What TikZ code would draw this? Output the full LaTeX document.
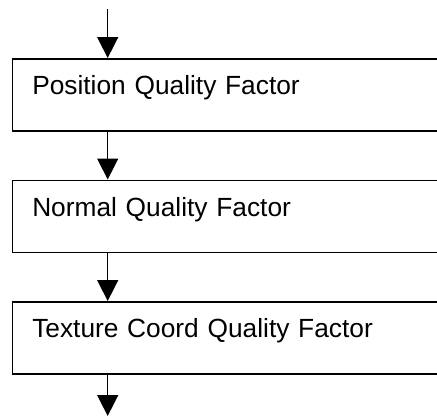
\documentclass[tikz,border=0pt]{standalone}
\usepackage{fontspec}
\setmainfont{Liberation Sans}
\usetikzlibrary{positioning,arrows.meta}

\begin{document}
\begin{tikzpicture}[x=1pt,y=1pt,
    qbox/.style={draw, line width=1.5pt, rectangle, anchor=north west,
      minimum width=450pt, text width=410pt, align=left,
      inner xsep=15pt, inner ysep=17pt, text height=19pt, text depth=19pt,
      font=\fontsize{26.3}{30}\selectfont},
    flow/.style={line width=1.5pt, -{Triangle[width=21pt,length=21pt]}}]
  \useasboundingbox (0,0) rectangle (437,-416);
  \clip (0,0) rectangle (437,-416);
  % the three factors
  \node[qbox] (pos) at (11.5,-58) {Position Quality Factor};
  \node[qbox, below=48pt of pos] (nrm) {Normal Quality Factor};
  \node[qbox, below=48pt of nrm] (tex) {Texture Coord Quality Factor};
  \coordinate (in) at (107.7,-9);
  \coordinate (out) at (107.7,-416);
  % connectors
  \draw[flow] (in) -- (in |- pos.north);
  \draw[flow] (in |- pos.south) -- (in |- nrm.north);
  \draw[flow] (in |- nrm.south) -- (in |- tex.north);
  \draw[flow] (in |- tex.south) -- (out);
\end{tikzpicture}
\end{document}
